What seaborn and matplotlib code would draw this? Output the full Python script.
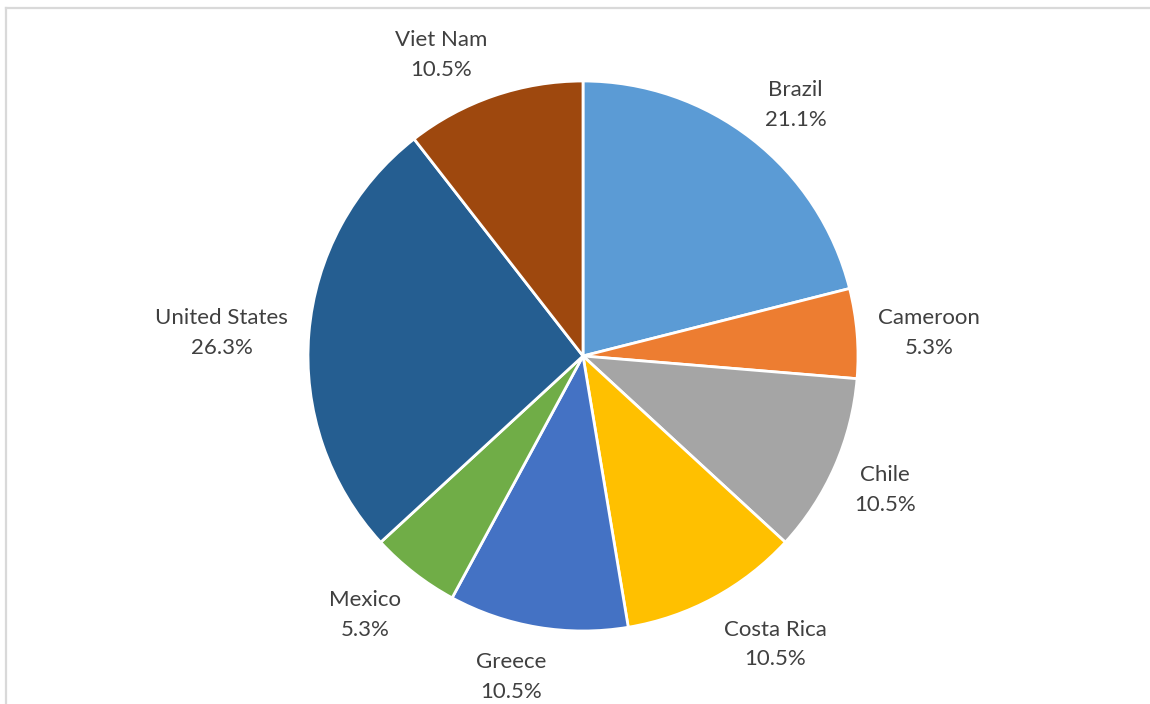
import numpy as np
import matplotlib
matplotlib.use("Agg")
import matplotlib.pyplot as plt
import seaborn as sns
from matplotlib.lines import Line2D

countries = ["Brazil", "Cameroon", "Chile", "Costa Rica", "Greece",
             "Mexico", "United States", "Viet Nam"]
counts = [4, 1, 2, 2, 2, 1, 5, 2]
colors = ["#5B9BD5", "#ED7D31", "#A5A5A5", "#FFC000", "#4472C4",
          "#70AD47", "#255E91", "#9E480E"]

sns.set_theme(style="white")
plt.rcParams["font.family"] = ["Lato", "DejaVu Sans"]

W, H = 1150, 704
fig = plt.figure(figsize=(W / 100, H / 100), dpi=100)
ax = fig.add_axes([0, 0, 1, 1])
ax.set_xlim(0, W)
ax.set_ylim(0, H)
ax.set_aspect("equal")
ax.axis("off")

# chart frame (top and left edges visible)
fig.add_artist(Line2D([5.5 / W, 5.5 / W], [0, 1 - 7.5 / H], transform=fig.transFigure,
                      color="#D9D9D9", lw=1.6, solid_capstyle="projecting"))
fig.add_artist(Line2D([5.5 / W, 1], [1 - 7.5 / H, 1 - 7.5 / H], transform=fig.transFigure,
                      color="#D9D9D9", lw=1.6, solid_capstyle="projecting"))

cx, cy, R = 583, H - 356, 275
total = sum(counts)
wedges, _ = ax.pie(counts, colors=colors, startangle=90, counterclock=False,
                   center=(cx, cy), radius=R,
                   wedgeprops=dict(edgecolor="white", linewidth=2.0))
ax.set_xlim(0, W)
ax.set_ylim(0, H)

# outside labels: the box side facing the pie sits a fixed gap off the rim
fig.canvas.draw()
renderer = fig.canvas.get_renderer()
gap = 21
descent = 4
for w, name, c in zip(wedges, countries, counts):
    mid = np.deg2rad((w.theta1 + w.theta2) / 2)
    t = ax.text(0, 0, f"{name}\n{100 * c / total:.1f}%", ha="center", va="center",
                fontsize=16, color="#404040", linespacing=1.62)
    bb = t.get_window_extent(renderer)
    px = cx + (R + gap) * np.cos(mid)
    py = cy + (R + gap) * np.sin(mid)
    ox = bb.width / 2 * np.clip(4 * np.cos(mid), -1, 1)
    oy = bb.height / 2 * np.clip(1.1 * np.sin(mid), -1, 1) - descent
    t.set_position((px + ox, py + oy))

fig.savefig("out.png", dpi=100, facecolor="white")
